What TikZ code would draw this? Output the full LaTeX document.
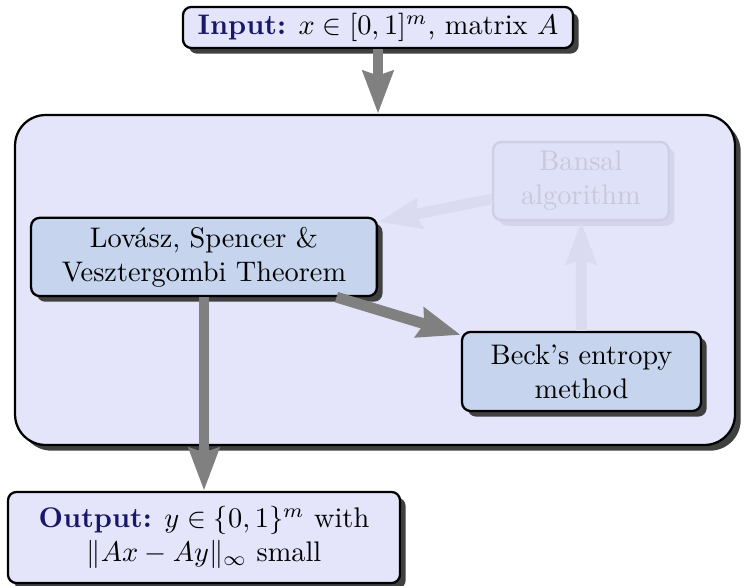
\documentclass[tikz,border=0pt]{standalone}
\usepackage{fontspec}
\usetikzlibrary{arrows.meta,shadows}
\definecolor{lavender}{RGB}{228,228,251}
\definecolor{boxblue}{RGB}{198,213,237}
\definecolor{navy}{RGB}{24,24,104}
% washed-out colours for the part that is not used
\definecolor{fadedfill}{RGB}{223,225,249}
\definecolor{fadedline}{RGB}{206,206,229}
\definecolor{fadedtext}{RGB}{200,200,218}
\definecolor{fadedshadow}{RGB}{212,212,236}
\definecolor{fadedarrow}{RGB}{218,218,240}
\begin{document}
\begin{tikzpicture}[
    boxshadow/.style={drop shadow={opacity=1,fill=#1,shadow xshift=2pt,shadow yshift=-2pt}},
    iobox/.style={draw=black,thick,fill=lavender,rounded corners=3pt,align=center,inner sep=0pt,boxshadow=black!75},
    thmbox/.style={draw=black,thick,fill=boxblue,rounded corners=3pt,align=center,inner sep=0pt,boxshadow=black!75},
    fadedbox/.style={draw=fadedline,thick,fill=fadedfill,text=fadedtext,rounded corners=3pt,align=center,inner sep=0pt,boxshadow=fadedshadow},
    flow/.style={draw=gray,line width=3.8pt,-{Stealth[length=15pt,width=10.5pt,inset=1.5pt]}}]
  \useasboundingbox (0,0) rectangle (9.256,-7.27);
  % in and out
  \node[iobox,minimum width=4.84cm,minimum height=0.51cm] (input) at (4.69,-0.341)
    {\textbf{\color{navy}Input:} $x\in[0,1]^m$, matrix $A$};
  \node[iobox,minimum width=4.864cm,minimum height=1.13cm] (output) at (2.531,-6.669)
    {\textbf{\color{navy}Output:} $y\in\{0,1\}^m$ with\\$\|Ax-Ay\|_\infty$ small};
  % the big frame
  \node[iobox,rounded corners=0.38cm,minimum width=8.933cm,minimum height=4.094cm] (frame) at (4.653,-3.474) {};
  % the theorems
  \node[thmbox,minimum width=4.29cm,minimum height=0.97cm] (lovasz) at (2.531,-3.188)
    {Lovász, Spencer \&\\Vesztergombi Theorem};
  \node[thmbox,minimum width=2.965cm,minimum height=0.98cm] (beck) at (7.215,-4.609)
    {Beck's entropy\\method};
  \node[fadedbox,minimum width=2.18cm,minimum height=0.97cm] (bansal) at (7.208,-2.246)
    {Bansal\\algorithm};
  % arrows
  \draw[flow] (input.south) -- (input.south |- frame.north);
  \draw[flow] (lovasz) -- (beck);
  \draw[flow,draw=fadedarrow] (beck) -- (bansal);
  \draw[flow,draw=fadedarrow] (bansal) -- (lovasz);
  \draw[flow] (lovasz) -- (output);
\end{tikzpicture}
\end{document}
